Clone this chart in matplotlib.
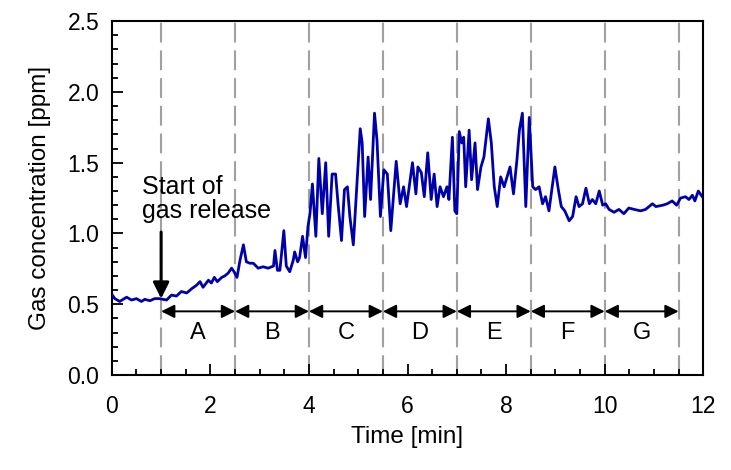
import matplotlib.pyplot as plt
from matplotlib.ticker import MultipleLocator

plt.rcParams['font.family'] = ['Liberation Sans', 'DejaVu Sans']

# time [min] and gas concentration [ppm]
time = [0.0, 0.06, 0.16, 0.3, 0.4, 0.5, 0.6, 0.67, 0.77, 0.87, 0.97,
        1.11, 1.21, 1.31, 1.41, 1.52, 1.62, 1.72, 1.79, 1.85, 1.96, 2.02,
        2.08, 2.14, 2.23, 2.29, 2.36, 2.43, 2.48, 2.54, 2.6, 2.67, 2.73,
        2.8, 2.87, 2.97, 3.07, 3.17, 3.28, 3.31, 3.36, 3.41, 3.49, 3.54,
        3.61, 3.68, 3.71, 3.77, 3.81, 3.87, 3.93, 3.98, 4.02, 4.07, 4.14,
        4.2, 4.27, 4.34, 4.4, 4.47, 4.54, 4.59, 4.66, 4.72, 4.78, 4.83,
        4.9, 4.97, 5.04, 5.08, 5.13, 5.2, 5.25, 5.33, 5.38, 5.45, 5.52,
        5.59, 5.66, 5.77, 5.85, 5.92, 5.98, 6.1, 6.17, 6.21, 6.28, 6.34,
        6.41, 6.48, 6.54, 6.6, 6.66, 6.73, 6.8, 6.84, 6.91, 6.96, 7.0,
        7.05, 7.1, 7.14, 7.18, 7.25, 7.3, 7.37, 7.42, 7.49, 7.55, 7.64,
        7.7, 7.76, 7.82, 7.89, 7.96, 8.02, 8.08, 8.15, 8.22, 8.27, 8.33,
        8.4, 8.47, 8.54, 8.6, 8.67, 8.74, 8.8, 8.87, 8.99, 9.06, 9.12,
        9.19, 9.28, 9.35, 9.42, 9.48, 9.55, 9.62, 9.69, 9.75, 9.82, 9.89,
        9.96, 10.02, 10.09, 10.19, 10.29, 10.39, 10.49, 10.6, 10.73,
        10.83, 10.97, 11.04, 11.18, 11.27, 11.37, 11.46, 11.54, 11.64,
        11.71, 11.78, 11.83, 11.9, 11.98]
conc = [0.57, 0.54, 0.52, 0.55, 0.53, 0.54, 0.52, 0.535, 0.525, 0.54, 0.54,
        0.53, 0.565, 0.558, 0.59, 0.58, 0.61, 0.635, 0.66, 0.62, 0.67, 0.65,
        0.69, 0.66, 0.69, 0.70, 0.72, 0.755, 0.73, 0.69, 0.81, 0.92, 0.80,
        0.79, 0.79, 0.755, 0.765, 0.755, 0.77, 0.88, 0.74, 0.74, 1.02, 0.77,
        0.73, 0.81, 0.87, 0.80, 0.83, 0.98, 0.83, 1.05, 1.14, 1.35, 0.98,
        1.53, 1.14, 1.50, 0.98, 1.42, 1.42, 1.21, 0.95, 1.31, 1.33, 1.12,
        0.92, 1.33, 1.74, 1.64, 1.12, 1.54, 1.24, 1.85, 1.66, 1.12, 1.45,
        1.42, 1.02, 1.51, 1.21, 1.33, 1.19, 1.50, 1.28, 1.47, 1.43, 1.26,
        1.57, 1.24, 1.42, 1.19, 1.33, 1.26, 1.33, 1.24, 1.68, 1.16, 1.14,
        1.72, 1.64, 1.68, 1.33, 1.73, 1.38, 1.64, 1.31, 1.47, 1.54, 1.81,
        1.64, 1.33, 1.19, 1.40, 1.33, 1.40, 1.47, 1.28, 1.52, 1.73, 1.85,
        1.19, 1.82, 1.33, 1.31, 1.33, 1.21, 1.26, 1.16, 1.47, 1.31, 1.19,
        1.16, 1.09, 1.12, 1.26, 1.19, 1.21, 1.32, 1.21, 1.24, 1.21, 1.30,
        1.20, 1.21, 1.17, 1.15, 1.17, 1.14, 1.18, 1.17, 1.16,
        1.17, 1.21, 1.19, 1.20, 1.21, 1.23, 1.20, 1.25, 1.26,
        1.24, 1.27, 1.23, 1.30, 1.26]

bounds = [1, 2.5, 4, 5.5, 7, 8.5, 10, 11.5]
phases = ['A', 'B', 'C', 'D', 'E', 'F', 'G']

fig = plt.figure(figsize=(7.31, 4.70), dpi=100)
ax = fig.add_axes([0.153, 0.202, 0.809, 0.753])

for b in bounds:
    ax.axvline(b, color='#a0a0a0', lw=1.5, ls=(0, (9.5, 3.8)), zorder=1)

ax.plot(time, conc, color='#0000aa', lw=2.0, zorder=3)

for i, name in enumerate(phases):
    ax.annotate('', xy=(bounds[i + 1], 0.45), xytext=(bounds[i], 0.45),
                arrowprops=dict(arrowstyle='<|-|>', color='black', lw=1.4,
                                mutation_scale=20, shrinkA=0, shrinkB=0))
    ax.text((bounds[i] + bounds[i + 1]) / 2, 0.3, name, ha='center',
            va='center', fontsize=17)

ax.annotate('', xy=(1, 0.54), xytext=(1, 1.01),
            arrowprops=dict(arrowstyle='-|>', color='black', lw=2.2,
                            mutation_scale=24, shrinkA=0, shrinkB=0))
ax.text(0.62, 1.245, 'Start of\ngas release', ha='left', va='center',
        fontsize=18, linespacing=1.0)

ax.set_xlim(0, 12)
ax.set_ylim(0, 2.5)
ax.xaxis.set_major_locator(MultipleLocator(2))
ax.xaxis.set_minor_locator(MultipleLocator(0.5))
ax.yaxis.set_major_locator(MultipleLocator(0.5))
ax.yaxis.set_minor_locator(MultipleLocator(0.1))
ax.yaxis.set_major_formatter(plt.FormatStrFormatter('%.1f'))
ax.tick_params(which='both', direction='in', top=False, right=False,
               labelsize=16.5, width=1.3)
ax.tick_params(axis='x', which='both', pad=14)
ax.tick_params(axis='y', which='both', pad=9)
ax.tick_params(which='major', length=8)
ax.tick_params(which='minor', length=4)
for s in ax.spines.values():
    s.set_linewidth(1.5)

ax.set_xlabel('Time [min]', fontsize=17.5, labelpad=6)
ax.set_ylabel('Gas concentration [ppm]', fontsize=17.5, labelpad=12)

fig.savefig('out.png', dpi=100)
